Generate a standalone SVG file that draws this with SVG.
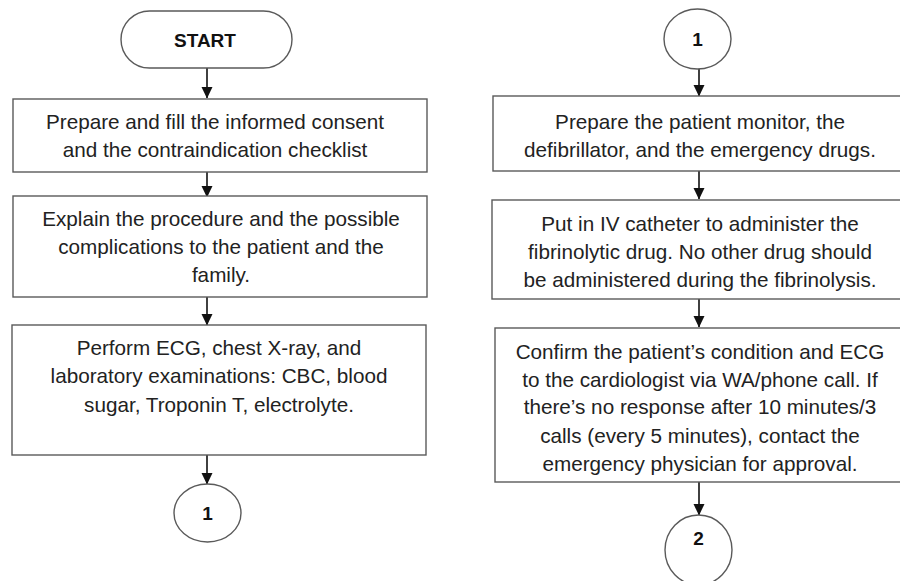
<svg xmlns="http://www.w3.org/2000/svg" width="900" height="581" viewBox="0 0 900 581">
<style>
.box{fill:#fff;stroke:#5a5a5a;stroke-width:1.4}
.t{font-family:"Liberation Sans",Arial,sans-serif;font-size:20.7px;fill:#222;text-anchor:middle}
.b{font-family:"Liberation Sans",Arial,sans-serif;font-size:19px;font-weight:bold;fill:#111;text-anchor:middle}
.c{stroke:#111;stroke-width:1.6;fill:none}
</style>
<defs>
<marker id="ah" markerUnits="userSpaceOnUse" markerWidth="12" markerHeight="12" viewBox="0 0 12 12" refX="11" refY="6" orient="auto">
<path d="M0,0.5 L11.5,6 L0,11.5 Z" fill="#111"/>
</marker>
</defs>
<rect width="900" height="581" fill="#fff"/>
<g id="connectors">
<line class="c" x1="207" y1="68" x2="207" y2="98" marker-end="url(#ah)"/>
<line class="c" x1="207" y1="172" x2="207" y2="197" marker-end="url(#ah)"/>
<line class="c" x1="207" y1="297" x2="207" y2="325" marker-end="url(#ah)"/>
<line class="c" x1="207" y1="455" x2="207" y2="484" marker-end="url(#ah)"/>
<line class="c" x1="699" y1="69" x2="699" y2="96" marker-end="url(#ah)"/>
<line class="c" x1="699" y1="171" x2="699" y2="199" marker-end="url(#ah)"/>
<line class="c" x1="699" y1="299" x2="699" y2="327" marker-end="url(#ah)"/>
<line class="c" x1="699" y1="482" x2="699" y2="515" marker-end="url(#ah)"/>
</g>
<g id="start">
<rect class="box" x="121" y="11" width="171" height="57" rx="28.5"/>
<text class="b" x="205" y="47">START</text>
</g>
<g id="consent">
<rect class="box" x="13" y="99" width="414" height="73"/>
<text class="t" x="215" y="129">Prepare and fill the informed consent</text>
<text class="t" x="215" y="157">and the contraindication checklist</text>
</g>
<g id="explain">
<rect class="box" x="13" y="196" width="414" height="101"/>
<text class="t" x="221" y="226">Explain the procedure and the possible</text>
<text class="t" x="221" y="254">complications to the patient and the</text>
<text class="t" x="221" y="282">family.</text>
</g>
<g id="perform">
<rect class="box" x="12" y="325" width="414" height="130"/>
<text class="t" x="219" y="355">Perform ECG, chest X-ray, and</text>
<text class="t" x="219" y="383">laboratory examinations: CBC, blood</text>
<text class="t" x="219" y="412">sugar, Troponin T, electrolyte.</text>
</g>
<g id="conn1-left">
<ellipse class="box" cx="207.5" cy="513" rx="33.5" ry="29"/>
<text class="b" x="207.5" y="520">1</text>
</g>
<g id="conn1-right">
<ellipse class="box" cx="697.5" cy="39" rx="33.5" ry="30"/>
<text class="b" x="697.5" y="46">1</text>
</g>
<g id="monitor">
<rect class="box" x="493" y="96" width="420" height="75"/>
<text class="t" x="700" y="129">Prepare the patient monitor, the</text>
<text class="t" x="700" y="157">defibrillator, and the emergency drugs.</text>
</g>
<g id="iv">
<rect class="box" x="492" y="200" width="420" height="99"/>
<text class="t" x="700" y="231">Put in IV catheter to administer the</text>
<text class="t" x="700" y="259">fibrinolytic drug. No other drug should</text>
<text class="t" x="700" y="287">be administered during the fibrinolysis.</text>
</g>
<g id="confirm">
<rect class="box" x="495" y="328" width="420" height="154"/>
<text class="t" x="700" y="359">Confirm the patient’s condition and ECG</text>
<text class="t" x="700" y="387">to the cardiologist via WA/phone call. If</text>
<text class="t" x="700" y="414">there’s no response after 10 minutes/3</text>
<text class="t" x="700" y="443">calls (every 5 minutes), contact the</text>
<text class="t" x="700" y="471">emergency physician for approval.</text>
</g>
<g id="conn2">
<ellipse class="box" cx="698.5" cy="550" rx="33.5" ry="35"/>
<text class="b" x="698.5" y="545">2</text>
</g>
</svg>
